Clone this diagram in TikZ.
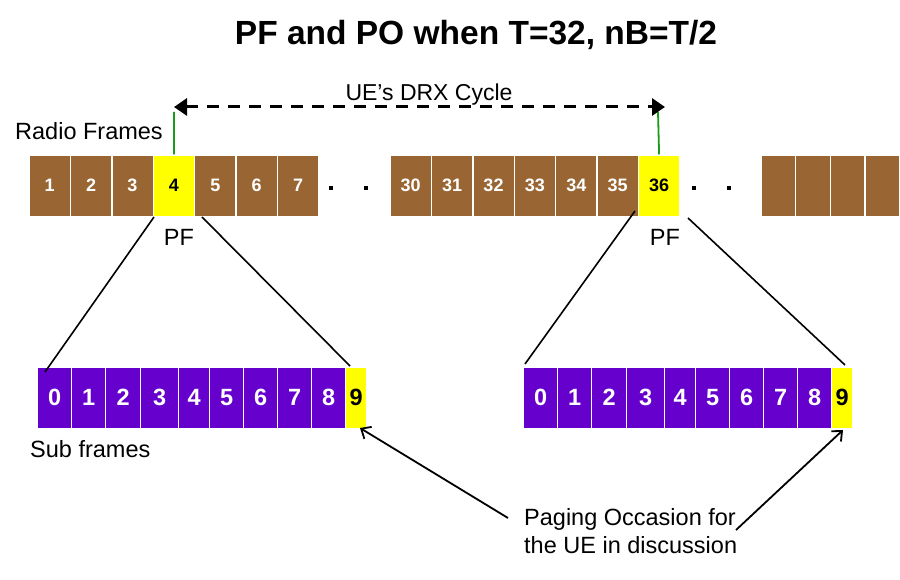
\documentclass[tikz,border=0pt]{standalone}
\usepackage{fontspec}
\setmainfont{Liberation Sans}
\usetikzlibrary{arrows.meta}
\definecolor{rfbrown}{HTML}{996633}
\definecolor{sfpurple}{HTML}{6600CC}
\definecolor{pfyellow}{HTML}{FFFF00}
\definecolor{mkgreen}{HTML}{1A9C1A}
\tikzset{
  rfbox/.style={draw=white, line width=1.4pt, fill=rfbrown, minimum width=41.4pt, minimum height=61.4pt, anchor=north west, inner sep=0pt, text=white, font=\bfseries\fontsize{18}{20}\selectfont},
  rfend/.style={rfbox, minimum width=34.6pt},
  pfbox/.style={rfbox, fill=pfyellow, text=black},
  sfbox/.style={draw=white, line width=1.2pt, fill=sfpurple, minimum height=61pt, anchor=north west, inner sep=0pt, text=white, font=\bfseries\fontsize{23.5}{26}\selectfont},
  pobox/.style={sfbox, fill=pfyellow, text=black},
  dotmark/.style={fill=black, minimum size=4pt, inner sep=0pt},
  lbl/.style={font=\fontsize{23.5}{28}\selectfont, inner sep=0pt},
  zoomline/.style={line width=1.6pt, black},
  poarrow/.style={line width=1.8pt, black, -{Straight Barb[length=8pt,width=14pt,line width=1.8pt]}},
  greenline/.style={line width=1.8pt, mkgreen},
}
\begin{document}
\begin{tikzpicture}[x=1pt,y=-1pt]
\useasboundingbox (0,0) rectangle (900,580);
\fill[white] (0,0) rectangle (900,580);
% title
\node[font=\bfseries\fontsize{33.5}{38}\selectfont, inner sep=0pt] (title) at (476,35) {PF and PO when T=32, nB=T/2};
% radio frames
\foreach \i/\n in {1/1,2/2,3/3,5/5,6/6,7/7}
  \node[rfbox] (rf\n) at ({28.3+41.4*(\i-1)},154.3) {\n};
\node[pfbox] (rf4) at ({28.3+41.4*3},154.3) {4};
\foreach \i/\n in {1/30,2/31,3/32,4/33,5/34,6/35}
  \node[rfbox] (rf\n) at ({389.3+41.4*(\i-1)},154.3) {\n};
\node[pfbox] (rf36) at ({389.3+41.4*6},154.3) {36};
\foreach \i in {1,...,4}
  \node[rfend] (rfx\i) at ({760.3+34.6*(\i-1)},154.3) {};
% dots
\node[dotmark] (d1) at (331,188) {};
\node[dotmark] (d2) at (366,188) {};
\node[dotmark] (d3) at (694,188) {};
\node[dotmark] (d4) at (729,188) {};
% labels
\node[lbl, anchor=west] (rflabel) at (15,131) {Radio Frames};
\node[lbl] (pf1) at (179,237) {PF};
\node[lbl] (pf2) at (665,237) {PF};
\node[lbl, anchor=west] (sflabel) at (30,449) {Sub frames};
\node[lbl, anchor=north west, align=left, font=\fontsize{23.5}{28}\selectfont] (polabel) at (524,508) {Paging Occasion for\\the UE in discussion};
% DRX cycle
\coordinate (g1) at (174,112);
\coordinate (g2) at (658,112);
\draw[greenline] (rf4.north) -- (g1);
\draw[greenline] (rf36.north) -- (g2);
\coordinate (drxL) at (174,107);
\coordinate (drxR) at (665,107);
\draw[line width=3pt, dash pattern=on 12pt off 9pt, {Triangle[length=13pt,width=17pt]}-{Triangle[length=13pt,width=17pt]}] (drxL) -- (drxR);
\node[font=\fontsize{23}{26}\selectfont, inner sep=0pt] (drxlabel) at (429,95) {UE’s DRX Cycle};
% sub frames
\foreach \side/\x in {L/37,R/523}{
  \foreach \k/\o/\w in {0/0/34,1/34/34,2/68/35,3/103/38,4/141/31,5/172/34,6/206/34,7/240/34,8/274/34}
    \node[sfbox, minimum width=\w pt] (sf\side\k) at ({\x+\o},366.5) {\k};
  \node[pobox, minimum width=21pt] (sf\side9) at ({\x+308},366.5) {9};
}
% zoom lines
\coordinate (zl1a) at (154,217);
\coordinate (zl1b) at (45,372);
\coordinate (zl2a) at (202,217);
\coordinate (zl2b) at (350,366);
\coordinate (zr1a) at (635,211);
\coordinate (zr1b) at (525,364);
\coordinate (zr2a) at (688,218);
\coordinate (zr2b) at (845,365);
\draw[zoomline] (zl1a) -- (zl1b);
\draw[zoomline] (zl2a) -- (zl2b);
\draw[zoomline] (zr1a) -- (zr1b);
\draw[zoomline] (zr2a) -- (zr2b);
% PO arrows
\coordinate (pa1) at (508,518);
\coordinate (pt1) at (360,428);
\coordinate (pa2) at (736,530);
\coordinate (pt2) at (843,430);
\draw[poarrow] (pa1) -- (pt1);
\draw[poarrow] (pa2) -- (pt2);
\end{tikzpicture}
\end{document}
